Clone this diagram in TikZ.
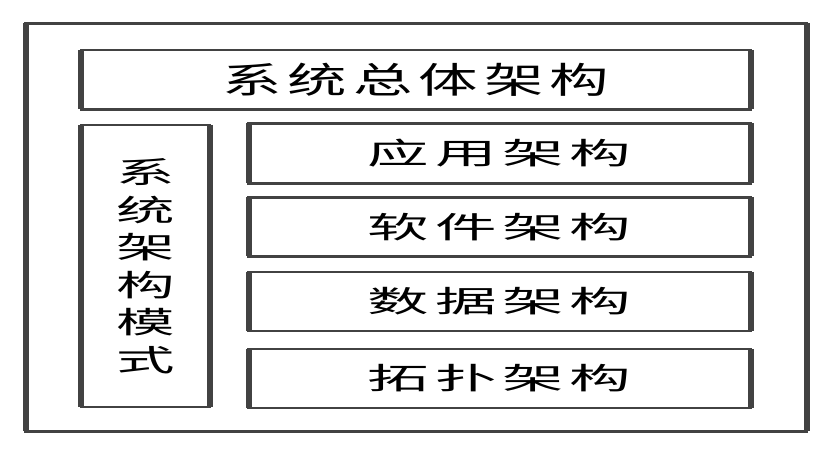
\documentclass[tikz,border=0pt]{standalone}
\usepackage{fontspec}
\newfontfamily\cjktitle[FakeStretch=1.65, LetterSpace=17]{Noto Sans CJK SC}
\newfontfamily\cjk[FakeStretch=2.05, LetterSpace=19]{Noto Sans CJK SC}
\newfontfamily\cjkv[FakeStretch=1.95]{Noto Sans CJK SC}
\usepackage{tikz}
\usetikzlibrary{positioning}
\definecolor{framegray}{HTML}{424242}

\begin{document}
\begin{tikzpicture}[x=1pt, y=-1pt]
    \tikzset{
        box/.style={
                draw=framegray, line width=2.7pt, fill=none, inner sep=0pt, outer sep=0pt
            },
        side/.style={
                draw=framegray, line width=6pt, line cap=butt
            },
        layer label/.style={
                font=\cjk\fontsize{30}{36}\selectfont, text=black
            },
        title label/.style={
                font=\cjktitle\fontsize{36}{42}\selectfont, text=black
            }
    }
    \useasboundingbox (0,0) rectangle (833,449);

    \node[box, minimum width=781pt, minimum height=408pt] (outer) at (416,227.25) {};
    % top bar
    \node[box, title label, minimum width=669.5pt, minimum height=59.5pt] (overall) at (415.75,79.75) {系统总体架构};
    % left column, one character per line
    \node[box, minimum width=129pt, minimum height=282pt, align=center,
        font=\cjkv\fontsize{30}{37.5}\selectfont] (mode) at (145.5,266) {系\\统\\架\\构\\模\\式};
    % right column
    \node[box, layer label, minimum width=502pt, minimum height=60pt] (app) at (499.5,153.5) {应用架构};
    \node[box, layer label, minimum width=502pt, minimum height=59pt] (soft) at (499.5,227) {软件架构};
    \node[box, layer label, minimum width=502pt, minimum height=59pt] (data) at (499.5,301.5) {数据架构};
    \node[box, layer label, minimum width=502pt, minimum height=59pt] (topo) at (499.5,378.5) {拓扑架构};

    \foreach \n in {outer, overall, mode, app, soft, data, topo}
        \draw[side] (\n.north west) -- (\n.south west) (\n.north east) -- (\n.south east);
\end{tikzpicture}
\end{document}
